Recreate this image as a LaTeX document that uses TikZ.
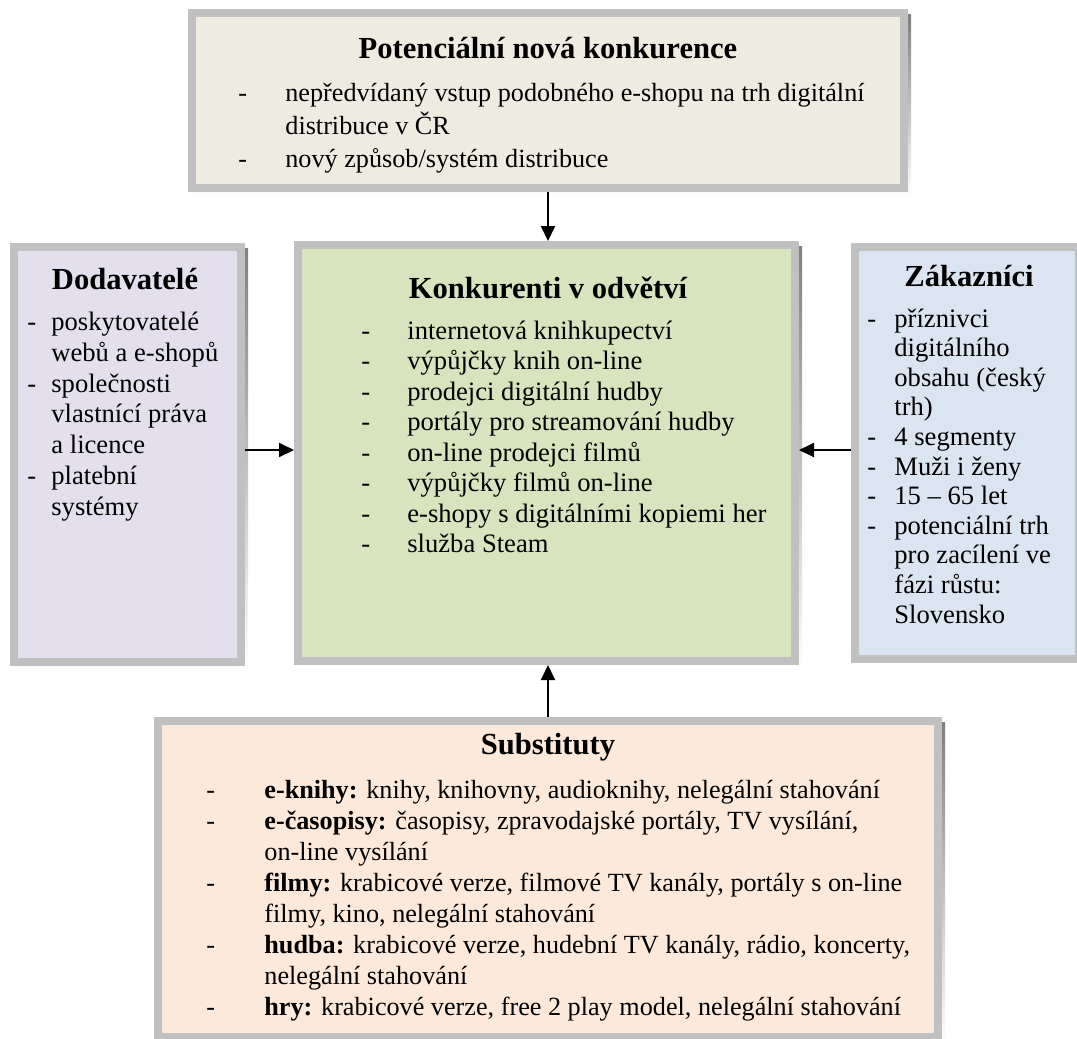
\documentclass[tikz,border=0pt]{standalone}
\usepackage{fontspec}
\setmainfont{Liberation Serif}
\usetikzlibrary{calc,backgrounds,arrows.meta}

\definecolor{rim}{HTML}{C0C0C0}
\definecolor{shade}{HTML}{A59FB7}
\definecolor{topfill}{HTML}{EEEBE1}
\definecolor{leftfill}{HTML}{E4DFEC}
\definecolor{midfill}{HTML}{D7E4BD}
\definecolor{rightfill}{HTML}{DBE5F1}
\definecolor{botfill}{HTML}{FDE9D9}

\newlength\dashgap
% first line of a list item (with dash) and its continuation lines
\newcommand\dl[1]{\makebox[\dashgap][l]{-}#1}
\newcommand\cl[1]{\hspace*{\dashgap}#1}
% drop shadow behind a panel
\newcommand\panelshadow[1]{%
  \begin{scope}[on background layer]
    \fill[shade] ($(#1.north west)+(3,5)$) rectangle ($(#1.south east)+(3,5)$);
  \end{scope}}

\begin{document}
\begin{tikzpicture}[x=0.5pt,y=-0.5pt,
  panel/.style={draw=rim, line width=4pt, inner sep=0pt, anchor=north west},
  heading/.style={anchor=base, inner sep=0pt,
    font=\fontsize{#1}{16pt}\selectfont\bfseries},
  items/.style={anchor=north west, inner sep=0pt, align=left,
    /utils/exec={\global\dashgap=#1\relax}},
  body/.style 2 args={font=\fontsize{#1}{#2}\selectfont},
  arr/.style={line width=1pt, -{Triangle[length=7.5pt,width=7pt]}}]
\useasboundingbox (0,0) rectangle (1077,1039);

% panels: outer corner, size = outer size minus the rim
\node[panel, fill=topfill,   minimum width=356pt,   minimum height=87.5pt]  (top)   at (188,9)   {};
\node[panel, fill=leftfill,  minimum width=113.5pt, minimum height=207.5pt] (left)  at (10,243)  {};
\node[panel, fill=midfill,   minimum width=248.5pt, minimum height=208pt]   (mid)   at (294,241) {};
\node[panel, fill=rightfill, minimum width=112pt,   minimum height=206pt]   (right) at (851,243) {};
\node[panel, fill=botfill,   minimum width=390pt,   minimum height=158pt]   (bot)   at (154,717) {};
\panelshadow{top}
\panelshadow{left}
\panelshadow{mid}
\panelshadow{right}
\panelshadow{bot}

% new entrants
\node[heading=15.3pt] (topT) at (548,58) {Potenciální nová konkurence};
\node[items=23.5pt, body={13.1pt}{16.5pt}] (topL) at (238,78) {%
  \dl{\strut nepředvídaný vstup podobného e-shopu na trh digitální}\\
  \cl{distribuce v ČR}\\
  \dl{nový způsob/systém distribuce}};

% suppliers
\node[heading=15.3pt] (leftT) at (125,289) {Dodavatelé};
\node[items=12pt, body={13.3pt}{15.4pt}] (leftL) at (27,308.5) {%
  \dl{\strut poskytovatelé}\\
  \cl{webů a e-shopů}\\
  \dl{společnosti}\\
  \cl{vlastnící práva}\\
  \cl{a licence}\\
  \dl{platební}\\
  \cl{systémy}};

% rivalry
\node[heading=15.3pt] (midT) at (548,298) {Konkurenti v odvětví};
\node[items=23pt, body={13.3pt}{15.25pt}] (midL) at (361,317.5) {%
  \dl{\strut internetová knihkupectví}\\
  \dl{výpůjčky knih on-line}\\
  \dl{prodejci digitální hudby}\\
  \dl{portály pro streamování hudby}\\
  \dl{on-line prodejci filmů}\\
  \dl{výpůjčky filmů on-line}\\
  \dl{e-shopy s digitálními kopiemi her}\\
  \dl{služba Steam}};

% customers
\node[heading=15.3pt] (rightT) at (969,286) {Zákazníci};
\node[items=13.5pt, body={13.3pt}{14.8pt}] (rightL) at (867,306) {%
  \dl{\strut příznivci}\\
  \cl{digitálního}\\
  \cl{obsahu (český}\\
  \cl{trh)}\\
  \dl{4 segmenty}\\
  \dl{Muži i ženy}\\
  \dl{15 – 65 let}\\
  \dl{potenciální trh}\\
  \cl{pro zacílení ve}\\
  \cl{fázi růstu:}\\
  \cl{Slovensko}};

% substitutes
\node[heading=15.3pt] (botT) at (548,754) {Substituty};
\node[items=29pt, body={13.1pt}{15.5pt}] (botL) at (206,776.5) {%
  \dl{\strut\textbf{e-knihy:} knihy, knihovny, audioknihy, nelegální stahování}\\
  \dl{\textbf{e-časopisy:} časopisy, zpravodajské portály, TV vysílání,}\\
  \cl{on-line vysílání}\\
  \dl{\textbf{filmy:} krabicové verze, filmové TV kanály, portály s on-line}\\
  \cl{filmy, kino, nelegální stahování}\\
  \dl{\textbf{hudba:} krabicové verze, hudební TV kanály, rádio, koncerty,}\\
  \cl{nelegální stahování}\\
  \dl{\textbf{hry:} krabicové verze, free 2 play model, nelegální stahování}};

% forces acting on the industry
\coordinate (ax) at (548,0);
\coordinate (ay) at (0,450);
\draw[arr] (top.south -| ax) -- (mid.north -| ax);
\draw[arr] (bot.north -| ax) -- (mid.south -| ax);
\draw[arr] (left.east |- ay) -- (mid.west |- ay);
\draw[arr] (right.west |- ay) -- (mid.east |- ay);
\end{tikzpicture}
\end{document}
